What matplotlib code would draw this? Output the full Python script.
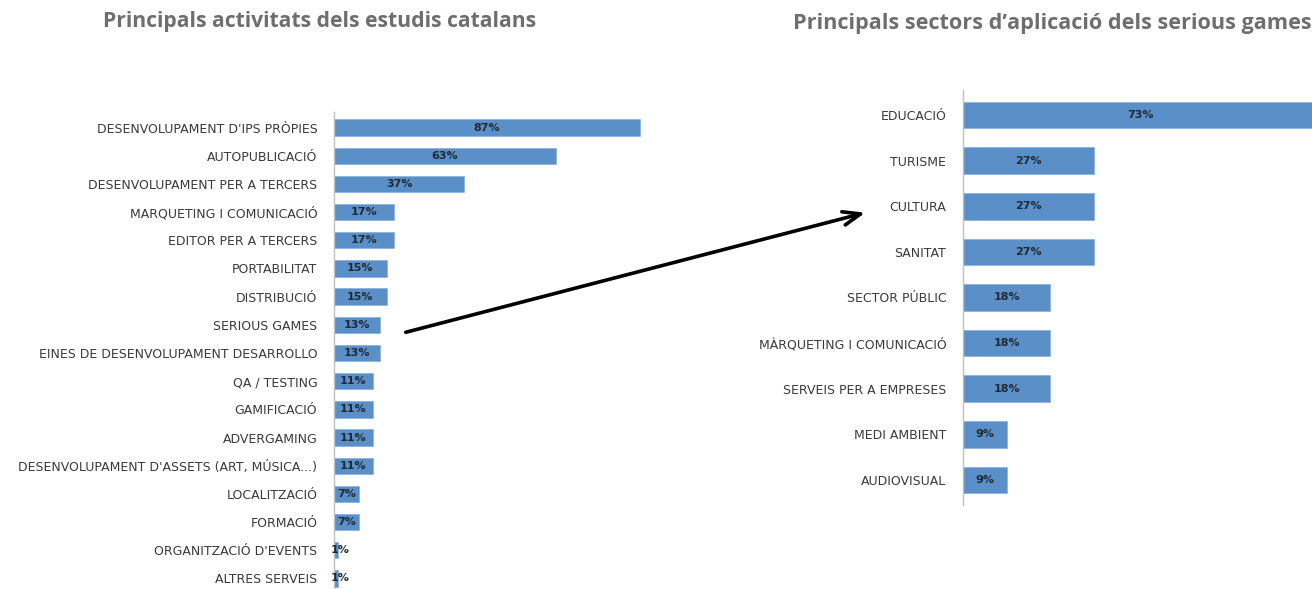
import matplotlib
matplotlib.use("Agg")
import matplotlib.pyplot as plt
from matplotlib.patches import FancyArrowPatch

left_labels = [
    "DESENVOLUPAMENT D'IPS PRÒPIES",
    "AUTOPUBLICACIÓ",
    "DESENVOLUPAMENT PER A TERCERS",
    "MARQUETING I COMUNICACIÓ",
    "EDITOR PER A TERCERS",
    "PORTABILITAT",
    "DISTRIBUCIÓ",
    "SERIOUS GAMES",
    "EINES DE DESENVOLUPAMENT DESARROLLO",
    "QA / TESTING",
    "GAMIFICACIÓ",
    "ADVERGAMING",
    "DESENVOLUPAMENT D'ASSETS (ART, MÚSICA...)",
    "LOCALITZACIÓ",
    "FORMACIÓ",
    "ORGANITZACIÓ D'EVENTS",
    "ALTRES SERVEIS",
]
left_values = [87, 63, 37, 17, 17, 15, 15, 13, 13, 11, 11, 11, 11, 7, 7, 1, 1]

right_labels = [
    "EDUCACIÓ",
    "TURISME",
    "CULTURA",
    "SANITAT",
    "SECTOR PÚBLIC",
    "MÀRQUETING I COMUNICACIÓ",
    "SERVEIS PER A EMPRESES",
    "MEDI AMBIENT",
    "AUDIOVISUAL",
]
right_values = [73, 27, 27, 27, 18, 18, 18, 9, 9]

W, H = 1312, 589
bar_color = "#5b8fc8"
label_color = "#3a3a3a"

fig = plt.figure(figsize=(W / 100, H / 100), dpi=100)


def px_axes(x0, y0, x1, y1):
    return fig.add_axes([x0 / W, 1 - y1 / H, (x1 - x0) / W, (y1 - y0) / H])


def draw(ax, labels, values, xmax):
    pos = list(range(len(labels)))
    ax.barh(pos, values, height=0.58, color=bar_color, edgecolor="#8fb4dc", linewidth=0.6)
    ax.set_xlim(0, xmax)
    ax.set_ylim(len(labels) - 0.45, -0.55)
    ax.set_yticks(pos)
    ax.set_yticklabels(labels, fontsize=9, color=label_color)
    ax.tick_params(axis="y", length=0, pad=12)
    ax.set_xticks([])
    for s in ["top", "right", "bottom"]:
        ax.spines[s].set_visible(False)
    ax.spines["left"].set_color("#bfbfbf")
    ax.spines["left"].set_linewidth(1.0)
    for p, v in zip(pos, values):
        ax.text(v / 2 + (1.2 if v < 3 else 0), p, f"{v}%", ha="center", va="center",
                fontsize=8, fontweight="bold", color="#1f2a36", clip_on=False)


# left chart: axis at x=334, 3.52 px per %
axl = px_axes(334, 112, 334 + 100 * 3.52, 594)
draw(axl, left_labels, left_values, 100)

# right chart: axis at x=963, 4.85 px per %, clipped at the figure edge
axr = px_axes(963, 90, 1312, 505)
draw(axr, right_labels, right_values, (1312 - 963) / 4.85)

title_kw = dict(fontsize=15.2, fontweight="bold", color="#6e6e6e", family=["Open Sans", "DejaVu Sans"])
fig.text(103 / W, 1 - 22 / H, "Principals activitats dels estudis catalans", ha="left", va="center", **title_kw)
fig.text(793 / W, 1 - 24 / H, "Principals sectors d’aplicació dels serious games", ha="left", va="center",
         **{**title_kw, "fontsize": 15.6})

fig.add_artist(FancyArrowPatch(
    (403 / W, 1 - 333 / H), (868 / W, 1 - 212 / H), transform=fig.transFigure,
    arrowstyle="->,head_length=0.9,head_width=0.35",
    mutation_scale=14, color="black", linewidth=2.6))

fig.savefig("out.png", dpi=100)
